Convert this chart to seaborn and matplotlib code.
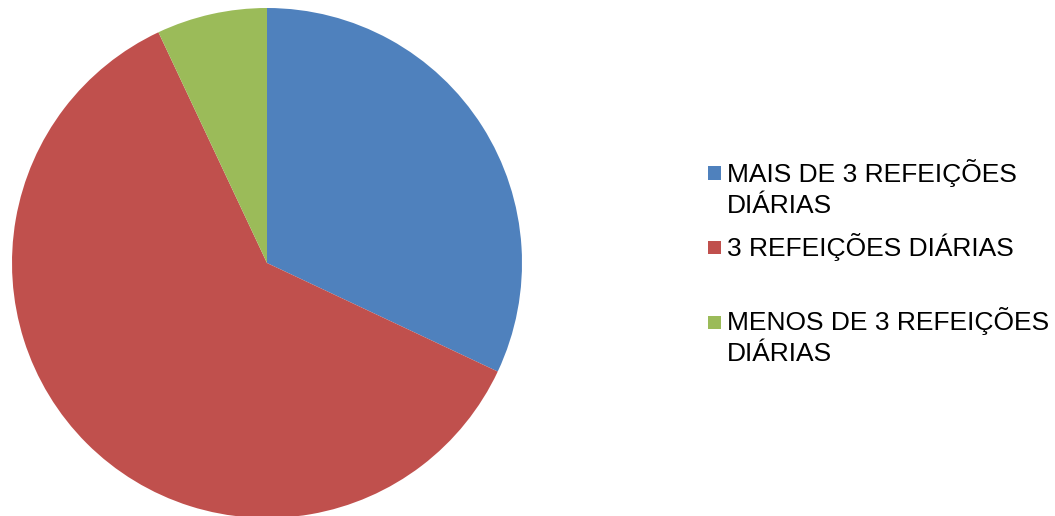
import matplotlib
matplotlib.use("Agg")
import matplotlib.pyplot as plt
from matplotlib.patches import Rectangle
import seaborn as sns

# Share of people by number of daily meals
categories = ["MAIS DE 3 REFEIÇÕES\nDIÁRIAS", "3 REFEIÇÕES DIÁRIAS", "MENOS DE 3 REFEIÇÕES\nDIÁRIAS"]
shares = [32, 61, 7]
colors = ["#4F81BD", "#C0504D", "#9BBB59"]

sns.set_theme(style="white")
plt.rcParams["font.family"] = ["Liberation Sans", "DejaVu Sans"]

W, H = 1055, 516
fig = plt.figure(figsize=(W / 100, H / 100), dpi=100)
fig.patch.set_facecolor("white")

# Pie axes: circle centred at (267, 263) px with radius 255 px
cx, cy, r = 267, 263, 255
ax = fig.add_axes([(cx - r) / W, (H - cy - r) / H, 2 * r / W, 2 * r / H])
ax.pie(shares, colors=sns.color_palette(colors), startangle=90, counterclock=False,
       radius=1.0, wedgeprops=dict(linewidth=0))
ax.set_xlim(-1, 1)
ax.set_ylim(-1, 1)
ax.set_aspect("equal")
ax.axis("off")

# Legend drawn by hand: square marker + (possibly wrapped) label
sq = 13
square_centres = [173, 247.5, 322.5]
first_baselines = [182, 256, 330]
line_gap = 31
text_x = 727
for label, col, sqc, base in zip(categories, colors, square_centres, first_baselines):
    fig.patches.append(Rectangle(((714 - sq / 2) / W, (H - sqc - sq / 2) / H), sq / W, sq / H,
                                 transform=fig.transFigure, facecolor=col, edgecolor="none"))
    for i, line in enumerate(label.split("\n")):
        fig.text(text_x / W, (H - (base + i * line_gap)) / H, line, fontsize=19,
                 color="black", ha="left", va="baseline")

fig.savefig("out.png", dpi=100, facecolor="white")
